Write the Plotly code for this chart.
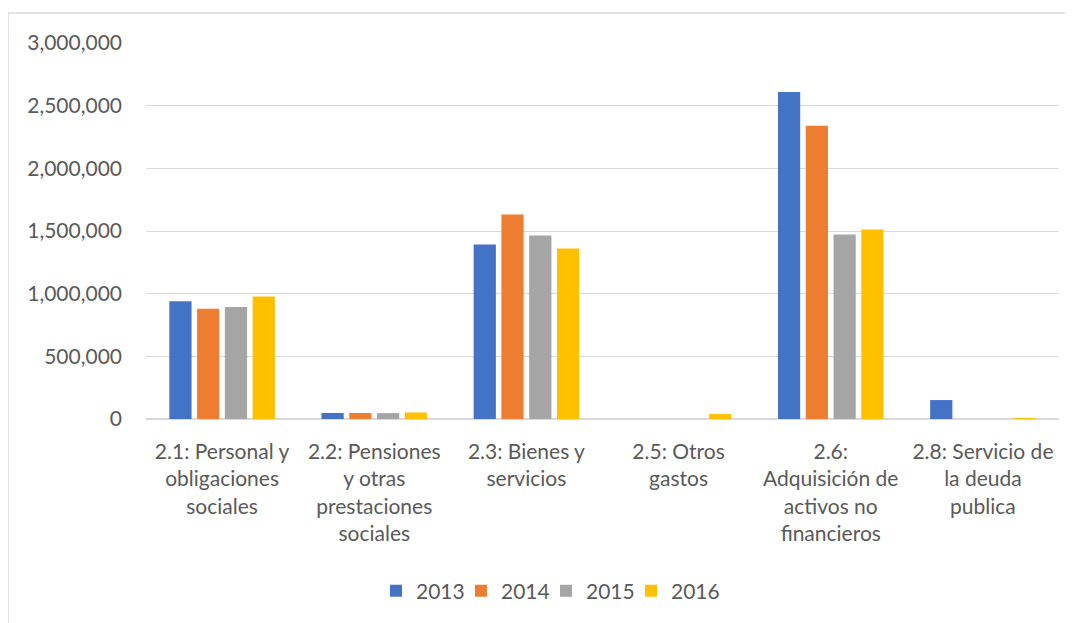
import plotly.graph_objects as go

categories = [
    "2.1: Personal y<br>obligaciones<br>sociales",
    "2.2: Pensiones<br>y otras<br>prestaciones<br>sociales",
    "2.3: Bienes y<br>servicios",
    "2.5: Otros<br>gastos",
    "2.6:<br>Adquisición de<br>activos no<br>financieros",
    "2.8: Servicio de<br>la deuda<br>publica",
]
years = ["2013", "2014", "2015", "2016"]
v2013 = [940000, 48000, 1393000, 0, 2610000, 151000]
v2014 = [880000, 48000, 1631000, 0, 2340000, 0]
v2015 = [893000, 47000, 1464000, 0, 1472000, 0]
v2016 = [978000, 52000, 1361000, 40000, 1512000, 8000]
series = [v2013, v2014, v2015, v2016]
colors = ["#4472C4", "#ED7D31", "#A5A5A5", "#FFC000"]
yticks = [0, 500000, 1000000, 1500000, 2000000, 2500000, 3000000]

FONT = "Lato, Calibri, sans-serif"
TXT = "#595959"

# page has an 8px body margin, so the figure is offset by 8px
W, H = 1065, 615
L, R, T, B = 138, 14, 35, 204
PW, PH = W - L - R, H - T - B

fig = go.Figure()
for name, vals, c in zip(years, series, colors):
    fig.add_trace(go.Bar(x=categories, y=vals, name=name, marker_color=c,
                         marker_line_width=0))
# spacer legend entry (invisible) so the last label is not clipped
fig.add_trace(go.Scatter(x=[None], y=[None], name=" ", mode="markers",
                         marker=dict(color="rgba(0,0,0,0)"), hoverinfo="skip"))

fig.update_layout(
    width=W, height=H,
    margin=dict(l=L, r=R, t=T, b=B, autoexpand=False),
    paper_bgcolor="white", plot_bgcolor="white",
    barmode="group", bargap=0.27, bargroupgap=0.2,
    font=dict(family=FONT, size=21, color=TXT),
    legend=dict(orientation="h", x=(382 - L - 14) / PW, xanchor="left",
                y=-(583 - (H - B)) / PH, yanchor="middle",
                font=dict(size=21, color=TXT), itemwidth=30, traceorder="normal",
                entrywidth=40, entrywidthmode="pixels", bgcolor="rgba(0,0,0,0)"),
    showlegend=True,
)
fig.update_yaxes(range=[0, 3000000], tickvals=yticks, tickformat=",d",
                 showgrid=True, gridcolor="#D9D9D9", gridwidth=1,
                 zeroline=True, zerolinecolor="#D9D9D9", zerolinewidth=1.5,
                 showline=False, ticks="", ticklabelstandoff=23, automargin=False,
                 tickfont=dict(size=21, color=TXT))
fig.update_xaxes(showline=False, ticks="", tickangle=0, ticklabelstandoff=18,
                 automargin=False, tickfont=dict(size=21, color=TXT))

fig.add_shape(type="rect", xref="paper", yref="paper",
              x0=(0 - L) / PW, x1=(W + 5 - L) / PW,
              y0=-1.0, y1=((H - B) - 5) / PH,
              line=dict(color="#D9D9D9", width=1.5), fillcolor="rgba(0,0,0,0)",
              layer="below")

fig.write_html("out.html")
